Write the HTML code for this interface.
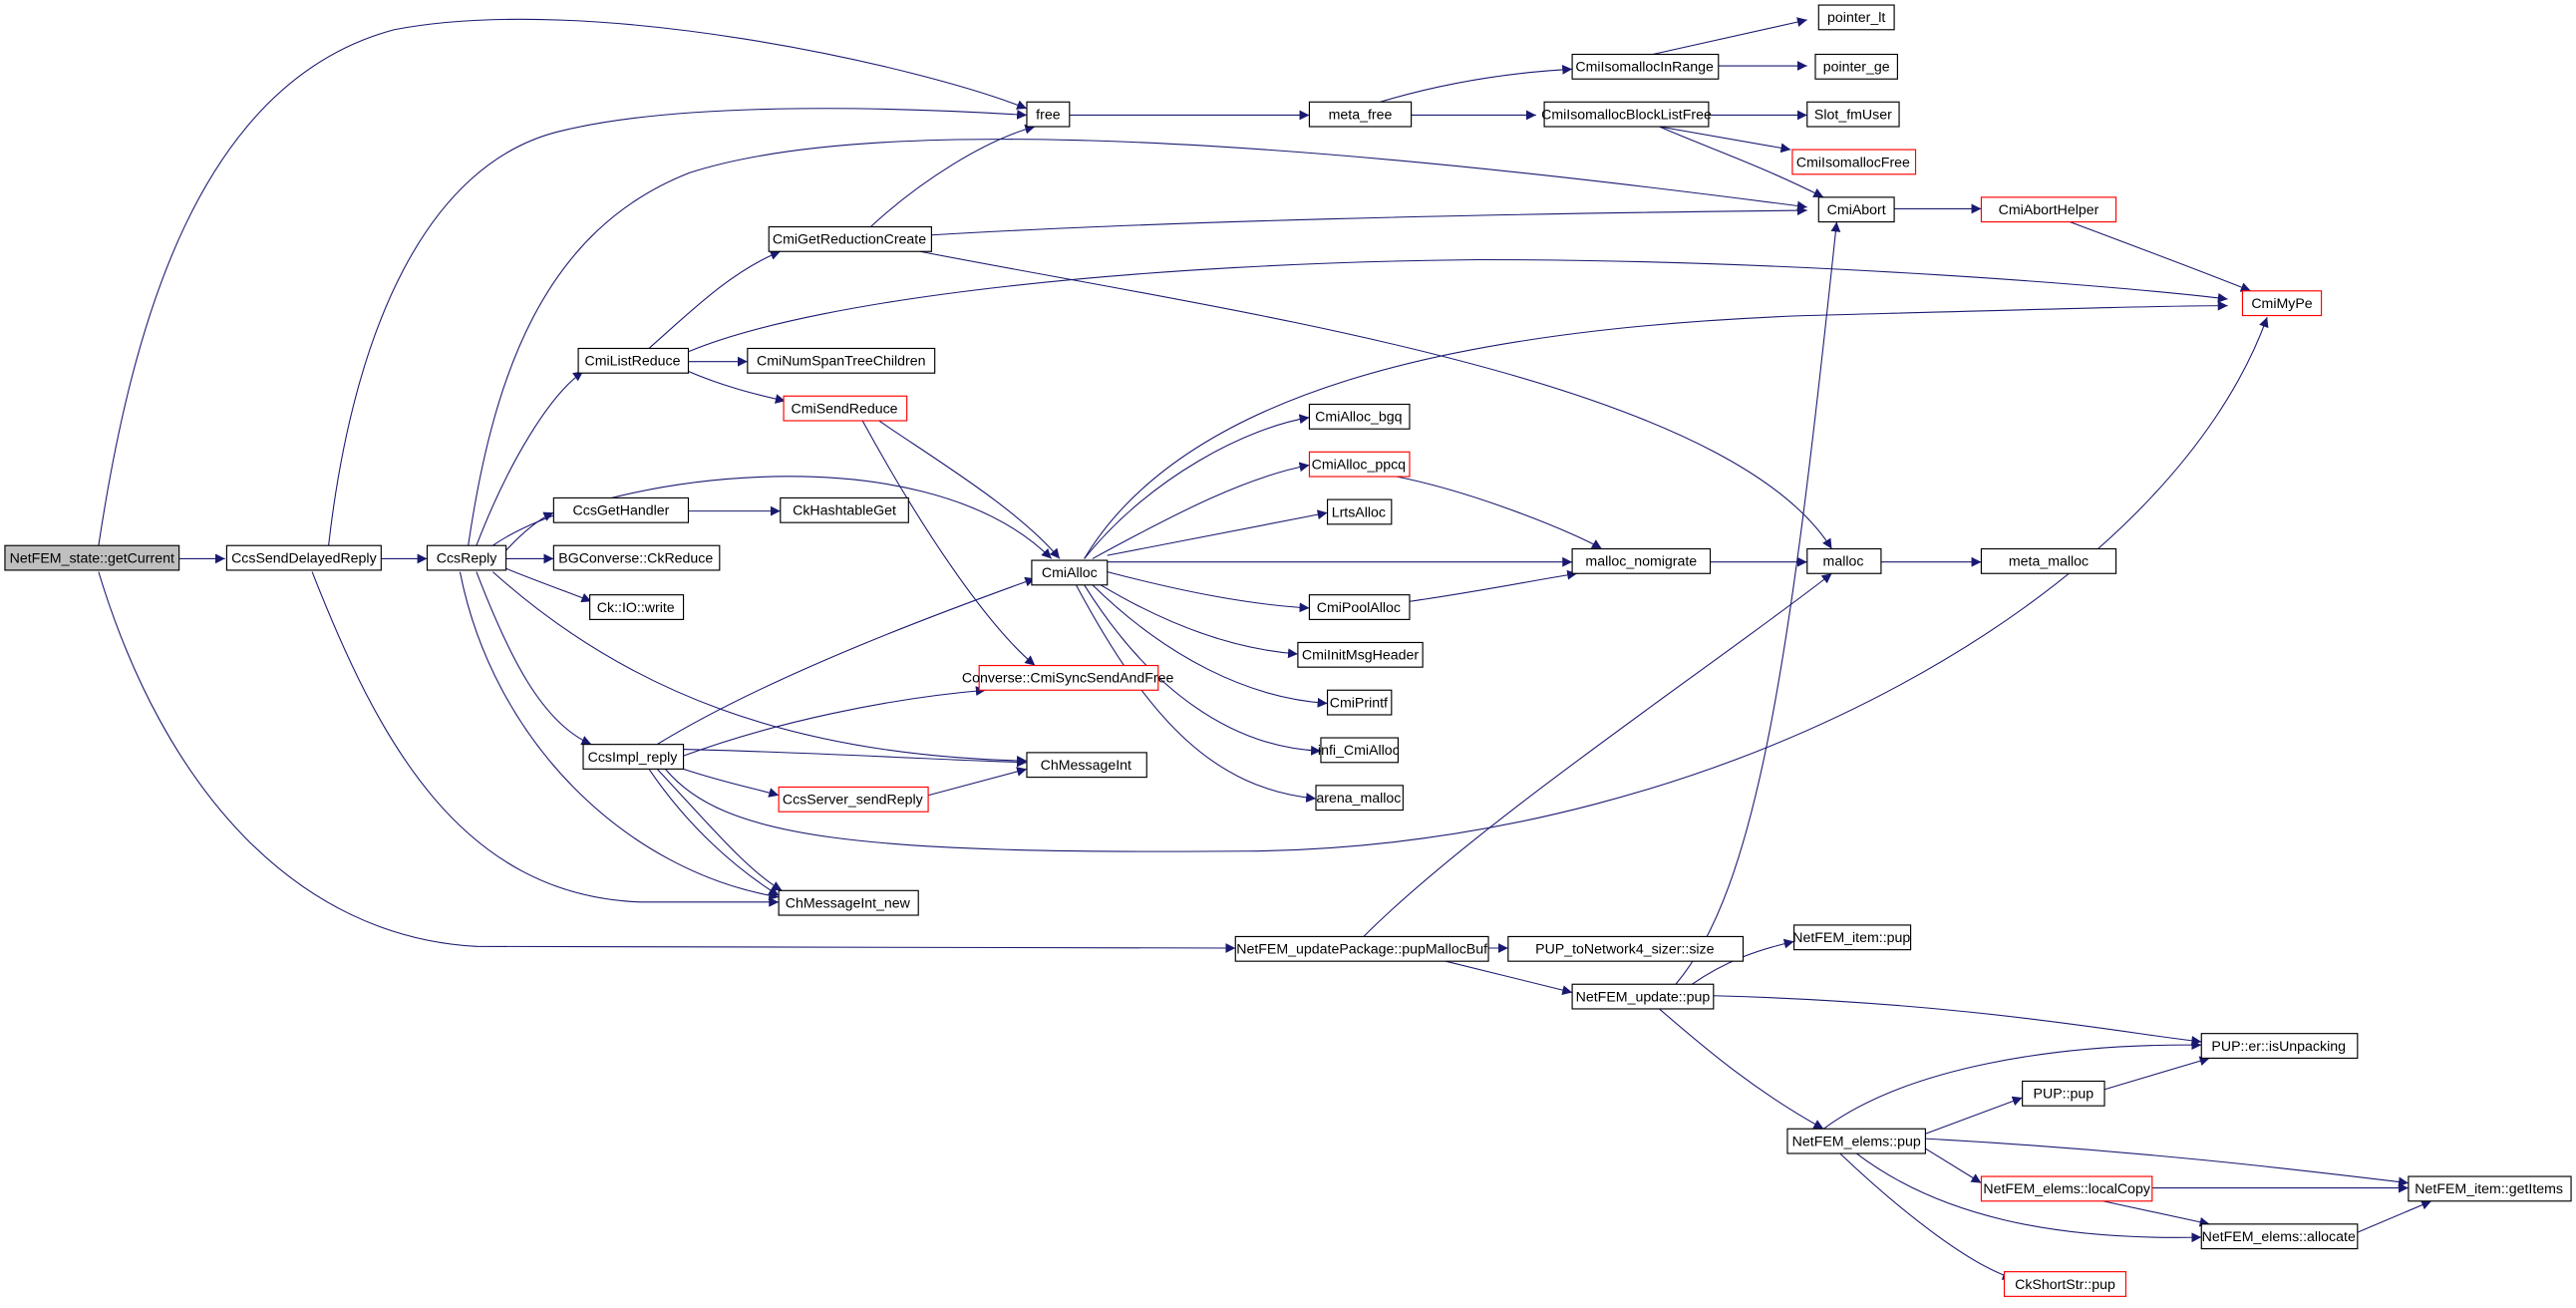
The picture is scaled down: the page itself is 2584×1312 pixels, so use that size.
<!DOCTYPE html>
<html><head><meta charset="utf-8"><style>
html,body{margin:0;padding:0;background:#fff;width:2584px;height:1312px;overflow:hidden}
svg{display:block}
text{font-family:"Liberation Sans",Arial,sans-serif;font-size:8.6px;fill:#000;text-anchor:middle;dominant-baseline:central}
.n{fill:#fff;stroke:#000;stroke-width:0.7}
.r{fill:#fff;stroke:#ff0000;stroke-width:0.7}
.g{fill:#bfbfbf;stroke:#000;stroke-width:0.7}
path{fill:none;stroke:#191970;stroke-width:0.65;marker-end:url(#a)}
</style></head><body>
<svg width="2584" height="1312" viewBox="0 0 1568 796" xmlns="http://www.w3.org/2000/svg">
<defs><marker id="a" markerUnits="userSpaceOnUse" markerWidth="7" markerHeight="6" refX="6" refY="3" orient="auto"><polygon points="0,0 6,3 0,6" fill="#191970"/></marker></defs>
<g>
<path d="M109,340 L137,340"/>
<path d="M60,332 C80,200 120,50 240,18 C360,-5 560,40 625,66"/>
<path d="M60,348 C100,480 180,570 290,576 L752,577"/>
<path d="M190,348 C230,450 280,545 390,549 L474,549"/>
<path d="M200,332 C215,200 260,100 340,80 C420,60 560,66 625,70"/>
<path d="M232,340 L260,340"/>
<path d="M308,335 C320,322 330,315 337,312"/>
<path d="M419,311 L475,311"/>
<path d="M308,340 L337,340"/>
<path d="M308,346 C330,355 345,360 360,366"/>
<path d="M290,332 C310,280 335,240 355,226"/>
<path d="M285,332 C300,230 330,140 420,105 C560,60 900,100 1100,126"/>
<path d="M300,332 C360,290 560,260 640,340"/>
<path d="M290,348 C310,400 330,440 360,453"/>
<path d="M300,348 C380,420 480,460 625,463"/>
<path d="M280,348 C300,450 380,530 474,546"/>
<path d="M400,468 C430,500 455,530 476,542"/>
<path d="M395,468 C420,505 450,530 474,545"/>
<path d="M416,468 C440,476 460,480 474,484"/>
<path d="M416,460 C470,440 540,425 600,420"/>
<path d="M400,453 C470,410 580,370 630,352"/>
<path d="M416,456 C500,458 560,462 625,464"/>
<path d="M405,468 C440,510 520,520 760,518 C1050,515 1320,360 1380,193"/>
<path d="M565,484 L625,468"/>
<path d="M395,212 C420,190 445,165 475,153"/>
<path d="M419,220 L455,220"/>
<path d="M419,226 C440,235 460,240 478,244"/>
<path d="M419,214 C500,180 700,160 900,158 C1100,158 1300,175 1356,182"/>
<path d="M530,138 C560,110 600,85 630,77"/>
<path d="M567,143 C700,135 900,130 1100,128"/>
<path d="M560,153 C750,190 1050,230 1115,334"/>
<path d="M535,256 C570,280 620,310 645,340"/>
<path d="M525,256 C560,320 600,380 630,405"/>
<path d="M651,70 L797,70"/>
<path d="M840,62 C880,50 920,44 957,42"/>
<path d="M859,70 L935,70"/>
<path d="M1006,33 L1100,12"/>
<path d="M1046,40 L1100,40"/>
<path d="M1040,70 L1100,70"/>
<path d="M1010,77 L1090,91"/>
<path d="M1010,77 C1040,90 1070,100 1110,120"/>
<path d="M1145,127 L1206,127"/>
<path d="M1260,135 C1300,150 1340,165 1370,177"/>
<path d="M660,340 C720,240 880,200 1100,192 C1250,188 1320,186 1356,186"/>
<path d="M660,340 C700,290 760,260 797,254"/>
<path d="M665,340 C720,310 760,290 797,283"/>
<path d="M674,338 L808,312"/>
<path d="M674,342 L957,342"/>
<path d="M674,348 C720,360 760,368 797,370"/>
<path d="M670,356 C710,380 750,395 790,398"/>
<path d="M665,356 C710,400 760,425 808,428"/>
<path d="M660,356 C700,420 750,455 804,457"/>
<path d="M655,356 C700,440 740,480 801,486"/>
<path d="M850,290 C900,300 960,325 975,334"/>
<path d="M858,366 C900,360 940,352 960,349"/>
<path d="M1041,342 L1100,342"/>
<path d="M1145,342 L1206,342"/>
<path d="M830,570 C900,500 1050,400 1115,349"/>
<path d="M906,577 L918,577"/>
<path d="M880,585 C920,595 940,600 957,604"/>
<path d="M1020,599 C1070,540 1090,400 1118,135"/>
<path d="M1030,599 C1050,585 1070,578 1092,573"/>
<path d="M1043,606 C1200,610 1300,630 1340,634"/>
<path d="M1010,614 C1040,640 1070,665 1110,687"/>
<path d="M1110,687 C1160,650 1250,635 1340,636"/>
<path d="M1172,690 L1231,668"/>
<path d="M1281,663 L1345,644"/>
<path d="M1172,693 C1300,700 1400,712 1466,720"/>
<path d="M1172,699 L1206,720"/>
<path d="M1130,702 C1180,740 1250,755 1340,753"/>
<path d="M1120,702 C1160,740 1200,770 1225,778"/>
<path d="M1310,723 L1466,723"/>
<path d="M1280,731 L1345,745"/>
<path d="M1435,750 L1480,731"/>
</g>
<g>
<rect class="g" x="3" y="332" width="106" height="15"/><text x="56" y="340">NetFEM_state::getCurrent</text>
<rect class="n" x="138" y="332" width="94" height="15"/><text x="185" y="340">CcsSendDelayedReply</text>
<rect class="n" x="260" y="332" width="48" height="15"/><text x="284" y="340">CcsReply</text>
<rect class="n" x="337" y="332" width="101" height="15"/><text x="387" y="340">BGConverse::CkReduce</text>
<rect class="n" x="359" y="362" width="57" height="15"/><text x="387" y="370">Ck::IO::write</text>
<rect class="n" x="337" y="303" width="82" height="15"/><text x="378" y="311">CcsGetHandler</text>
<rect class="n" x="475" y="303" width="78" height="15"/><text x="514" y="311">CkHashtableGet</text>
<rect class="n" x="352" y="212" width="67" height="15"/><text x="385" y="220">CmiListReduce</text>
<rect class="n" x="455" y="212" width="114" height="15"/><text x="512" y="220">CmiNumSpanTreeChildren</text>
<rect class="r" x="477" y="241" width="75" height="15"/><text x="514" y="249">CmiSendReduce</text>
<rect class="n" x="468" y="138" width="99" height="15"/><text x="517" y="146">CmiGetReductionCreate</text>
<rect class="n" x="625" y="62" width="26" height="15"/><text x="638" y="70">free</text>
<rect class="n" x="797" y="62" width="62" height="15"/><text x="828" y="70">meta_free</text>
<rect class="n" x="957" y="33" width="89" height="15"/><text x="1001" y="41">CmiIsomallocInRange</text>
<rect class="n" x="1107" y="3" width="46" height="15"/><text x="1130" y="11">pointer_lt</text>
<rect class="n" x="1105" y="33" width="50" height="15"/><text x="1130" y="41">pointer_ge</text>
<rect class="n" x="940" y="62" width="100" height="15"/><text x="990" y="70">CmiIsomallocBlockListFree</text>
<rect class="n" x="1100" y="62" width="56" height="15"/><text x="1128" y="70">Slot_fmUser</text>
<rect class="r" x="1091" y="91" width="75" height="15"/><text x="1128" y="99">CmiIsomallocFree</text>
<rect class="n" x="1107" y="120" width="46" height="15"/><text x="1130" y="128">CmiAbort</text>
<rect class="r" x="1206" y="120" width="82" height="15"/><text x="1247" y="128">CmiAbortHelper</text>
<rect class="r" x="1365" y="177" width="48" height="15"/><text x="1389" y="185">CmiMyPe</text>
<rect class="n" x="628" y="341" width="46" height="15"/><text x="651" y="349">CmiAlloc</text>
<rect class="n" x="797" y="246" width="61" height="15"/><text x="827" y="254">CmiAlloc_bgq</text>
<rect class="r" x="797" y="275" width="61" height="15"/><text x="827" y="283">CmiAlloc_ppcq</text>
<rect class="n" x="808" y="304" width="39" height="15"/><text x="827" y="312">LrtsAlloc</text>
<rect class="n" x="957" y="334" width="84" height="15"/><text x="999" y="342">malloc_nomigrate</text>
<rect class="n" x="1100" y="334" width="45" height="15"/><text x="1122" y="342">malloc</text>
<rect class="n" x="1206" y="334" width="82" height="15"/><text x="1247" y="342">meta_malloc</text>
<rect class="n" x="797" y="362" width="61" height="15"/><text x="827" y="370">CmiPoolAlloc</text>
<rect class="n" x="790" y="391" width="76" height="15"/><text x="828" y="399">CmiInitMsgHeader</text>
<rect class="n" x="808" y="420" width="39" height="15"/><text x="827" y="428">CmiPrintf</text>
<rect class="n" x="804" y="449" width="47" height="15"/><text x="827" y="457">infi_CmiAlloc</text>
<rect class="n" x="801" y="478" width="53" height="15"/><text x="827" y="486">arena_malloc</text>
<rect class="r" x="596" y="405" width="109" height="15"/><text x="650" y="413">Converse::CmiSyncSendAndFree</text>
<rect class="n" x="625" y="458" width="73" height="15"/><text x="661" y="466">ChMessageInt</text>
<rect class="r" x="474" y="479" width="91" height="15"/><text x="519" y="487">CcsServer_sendReply</text>
<rect class="n" x="355" y="453" width="61" height="15"/><text x="385" y="461">CcsImpl_reply</text>
<rect class="n" x="474" y="542" width="85" height="15"/><text x="516" y="550">ChMessageInt_new</text>
<rect class="n" x="752" y="570" width="154" height="15"/><text x="829" y="578">NetFEM_updatePackage::pupMallocBuf</text>
<rect class="n" x="918" y="570" width="143" height="15"/><text x="989" y="578">PUP_toNetwork4_sizer::size</text>
<rect class="n" x="957" y="599" width="86" height="15"/><text x="1000" y="607">NetFEM_update::pup</text>
<rect class="n" x="1092" y="563" width="71" height="15"/><text x="1127" y="571">NetFEM_item::pup</text>
<rect class="n" x="1340" y="629" width="95" height="15"/><text x="1387" y="637">PUP::er::isUnpacking</text>
<rect class="n" x="1231" y="658" width="50" height="15"/><text x="1256" y="666">PUP::pup</text>
<rect class="n" x="1088" y="687" width="84" height="15"/><text x="1130" y="695">NetFEM_elems::pup</text>
<rect class="r" x="1206" y="716" width="104" height="15"/><text x="1258" y="724">NetFEM_elems::localCopy</text>
<rect class="n" x="1466" y="716" width="99" height="15"/><text x="1515" y="724">NetFEM_item::getItems</text>
<rect class="n" x="1340" y="745" width="95" height="15"/><text x="1387" y="753">NetFEM_elems::allocate</text>
<rect class="r" x="1220" y="774" width="74" height="15"/><text x="1257" y="782">CkShortStr::pup</text>
</g>
</svg>
</body></html>
